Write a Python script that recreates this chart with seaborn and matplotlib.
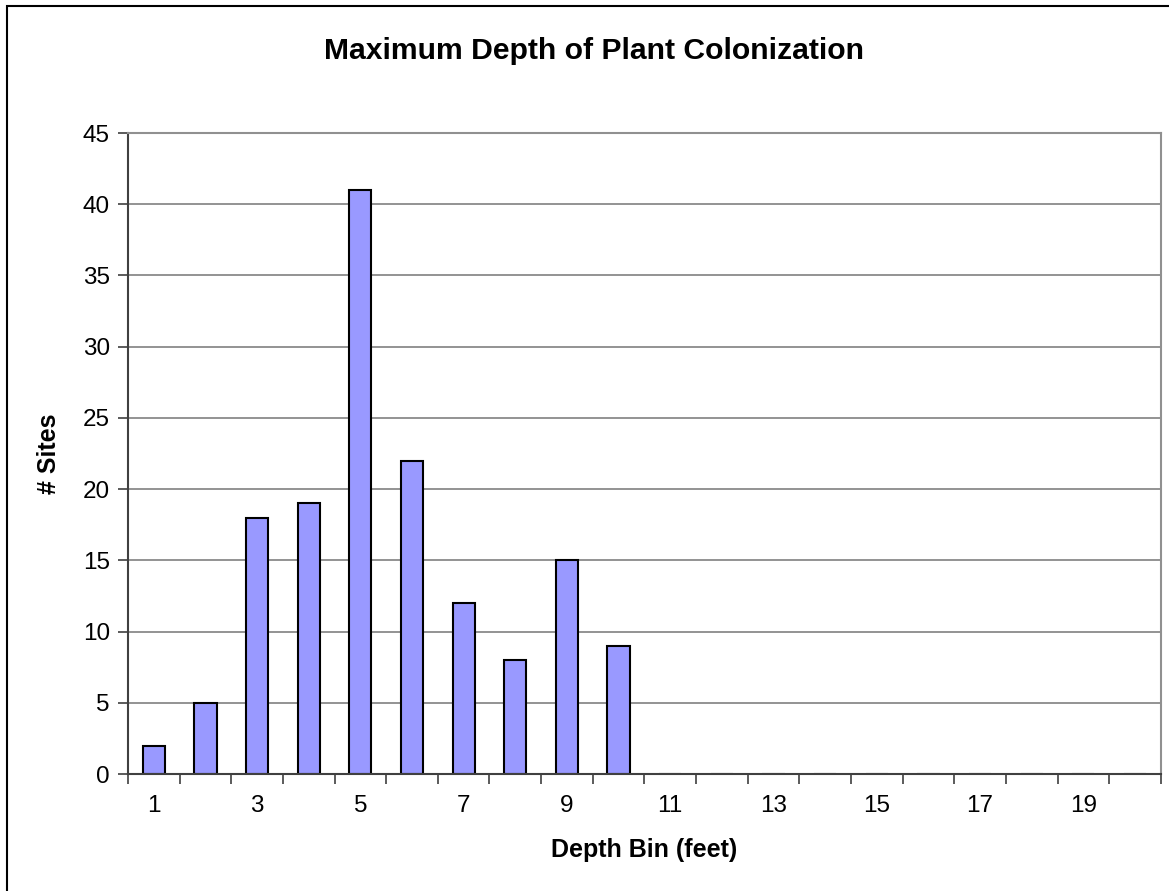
import matplotlib
matplotlib.use("Agg")
import matplotlib.pyplot as plt
import seaborn as sns
import pandas as pd
import numpy as np
from matplotlib.ticker import FixedLocator, MultipleLocator

depth_bins = [str(i) for i in range(1, 21)]
sites = [2, 5, 18, 19, 41, 22, 12, 8, 15, 9, 0, 0, 0, 0, 0, 0, 0, 0, 0, 0]
tick_labels = [b if int(b) % 2 == 1 else "" for b in depth_bins]

df = pd.DataFrame({"Depth Bin": depth_bins, "Sites": sites})

sns.set_theme(style="white")
plt.rcParams['font.family'] = ['Liberation Sans', 'DejaVu Sans']
plt.rcParams['text.color'] = 'black'
plt.rcParams['axes.labelcolor'] = 'black'
plt.rcParams['xtick.color'] = 'black'
plt.rcParams['ytick.color'] = 'black'

fig = plt.figure(figsize=(11.69, 8.91), dpi=100)
ax = fig.add_axes([0.1095, 0.1313, 0.8835, 0.7194])

sns.barplot(data=df, x="Depth Bin", y="Sites", order=depth_bins, color="#9999FF",
            edgecolor="black", linewidth=1.5, width=0.43, saturation=1, ax=ax)

ax.set_xlim(-0.5, len(depth_bins) - 0.5)
ax.set_ylim(0, 45)
ax.yaxis.set_major_locator(MultipleLocator(5))
ax.grid(axis="y", color="#808080", linewidth=1.2)
ax.set_axisbelow(True)

# x labels at category centres, tick marks at boundaries
ax.set_xticks(range(len(depth_bins)))
ax.set_xticklabels(tick_labels, fontsize=17.5)
ax.tick_params(axis="x", which="major", length=0, pad=15)
ax.xaxis.set_minor_locator(FixedLocator(np.arange(-0.5, len(depth_bins), 1.0)))
ax.tick_params(axis="x", which="minor", bottom=True, length=7, width=1.2, color="#404040", direction="out")
ax.tick_params(axis="y", left=True, length=7, width=1.2, color="#404040", labelsize=17.5, pad=6)

for side in ["left", "bottom"]:
    ax.spines[side].set_color("#404040")
    ax.spines[side].set_linewidth(1.5)
for side in ["top", "right"]:
    ax.spines[side].set_color("#909090")
    ax.spines[side].set_linewidth(1.5)

ax.set_xlabel("Depth Bin (feet)", fontsize=18, fontweight="bold", labelpad=15)
ax.set_ylabel("# Sites", fontsize=18, fontweight="bold", labelpad=16)
fig.suptitle("Maximum Depth of Plant Colonization", fontsize=21.7, fontweight="bold",
             x=594/1169, y=1 - 51/891, ha="center", va="center")

# outer chart border
fig.patches.append(plt.Rectangle((7/1169, -0.01), 1.2, 1 - 6/891 + 0.01, transform=fig.transFigure,
                                 fill=False, edgecolor="black", linewidth=1.5))

fig.savefig("out.png", dpi=100)
